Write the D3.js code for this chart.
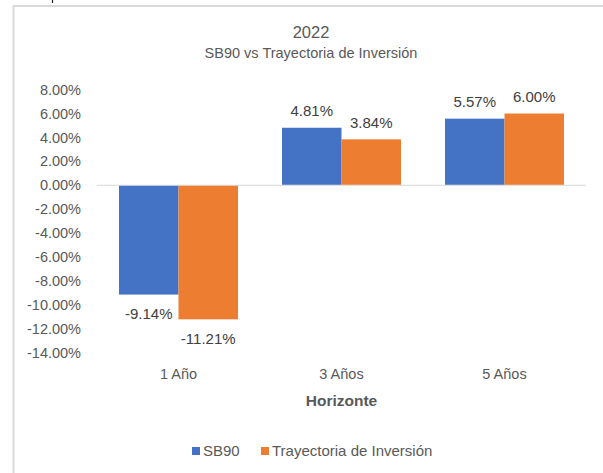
<!DOCTYPE html>
<html>
<head>
<meta charset="utf-8">
<script src="https://cdn.jsdelivr.net/npm/d3@7"></script>
<style>
  html, body { margin: 0; padding: 0; background: #fff; }
  svg { display: block; }
  text { font-family: "Liberation Sans", Arial, sans-serif; }
</style>
</head>
<body>
<svg id="chart" width="603" height="473"></svg>
<script>
const categories = ["1 Año", "3 Años", "5 Años"];
const seriesNames = ["SB90", "Trayectoria de Inversión"];
const sb90 = [-9.14, 4.81, 5.57];
const trayectoria = [-11.21, 3.84, 6.00];
const yTicks = [8, 6, 4, 2, 0, -2, -4, -6, -8, -10, -12, -14];
const colors = ["#4472C4", "#ED7D31"];
const titleLines = ["2022", "SB90 vs Trayectoria de Inversión"];
const xTitle = "Horizonte";

const svg = d3.select("#chart");

// small cropped fragment at top edge and chart frame
svg.append("line").attr("x1", 52.5).attr("x2", 52.5).attr("y1", 0).attr("y2", 3)
  .attr("stroke", "#222").attr("stroke-width", 1.2);
svg.append("path")
  .attr("d", "M13.5,473 L13.5,6 L603,6")
  .attr("fill", "none").attr("stroke", "#d9d9d9").attr("stroke-width", 2);

const x = d3.scaleBand().domain(categories).range([97, 586]).paddingInner(0.27).paddingOuter(0.135);
const xs = d3.scaleBand().domain([0, 1]).range([0, x.bandwidth()]);
const y = d3.scaleLinear().domain([-14, 8]).range([352.7, 89.6]);

// y axis labels
const yAxis = d3.axisLeft(y).tickValues(yTicks).tickSize(0).tickPadding(0)
  .tickFormat(d => d.toFixed(2) + "%");
const yg = svg.append("g").attr("transform", "translate(81,0)").call(yAxis);
yg.select(".domain").remove();
yg.selectAll("text").attr("font-size", 14.5).attr("fill", "#595959")
  .attr("font-family", "Liberation Sans, Arial, sans-serif");

// zero line
svg.append("line").attr("x1", 97).attr("x2", 586).attr("y1", y(0)).attr("y2", y(0))
  .attr("stroke", "#d9d9d9").attr("stroke-width", 1);

const series = [sb90, trayectoria];
series.forEach((vals, si) => {
  const g = svg.append("g");
  g.selectAll("rect").data(vals).join("rect")
    .attr("x", (d, i) => x(categories[i]) + xs(si))
    .attr("width", xs.bandwidth())
    .attr("y", d => d >= 0 ? y(d) : y(0) + 0.5)
    .attr("height", d => Math.abs(y(d) - y(0)) - 0.5)
    .attr("fill", colors[si]);
  g.selectAll("text").data(vals).join("text")
    .attr("x", (d, i) => x(categories[i]) + xs(si) + xs.bandwidth() / 2)
    .attr("y", d => d >= 0 ? y(d) - 17 : y(d) + 19)
    .attr("dy", "0.35em")
    .attr("text-anchor", "middle")
    .attr("font-size", 15).attr("fill", "#404040")
    .text(d => d.toFixed(2) + "%");
});

// x axis category labels
const xAxis = d3.axisBottom(x).tickSize(0).tickPadding(0);
const xg = svg.append("g").attr("transform", "translate(0,374)").call(xAxis);
xg.select(".domain").remove();
xg.selectAll("text").attr("font-size", 14.5).attr("fill", "#595959").attr("dy", "0.35em")
  .attr("font-family", "Liberation Sans, Arial, sans-serif");

// x title
svg.append("text").attr("x", 341.5).attr("y", 401).attr("dy", "0.35em")
  .attr("text-anchor", "middle").attr("font-size", 15.5).attr("font-weight", "bold")
  .attr("fill", "#595959").text(xTitle);

// title
svg.append("text").attr("x", 311).attr("y", 32).attr("dy", "0.35em").attr("text-anchor", "middle")
  .attr("font-size", 16.5).attr("fill", "#595959").text(titleLines[0]);
svg.append("text").attr("x", 311).attr("y", 53).attr("dy", "0.35em").attr("text-anchor", "middle")
  .attr("font-size", 14.5).attr("fill", "#595959").text(titleLines[1]);

// legend
const legendX = [192, 261];
seriesNames.forEach((name, i) => {
  svg.append("rect").attr("x", legendX[i]).attr("y", 447).attr("width", 8).attr("height", 8).attr("fill", colors[i]);
  svg.append("text").attr("x", legendX[i] + 11).attr("y", 451).attr("dy", "0.35em")
    .attr("font-size", 15).attr("fill", "#595959").text(name);
});
</script>
</body>
</html>
